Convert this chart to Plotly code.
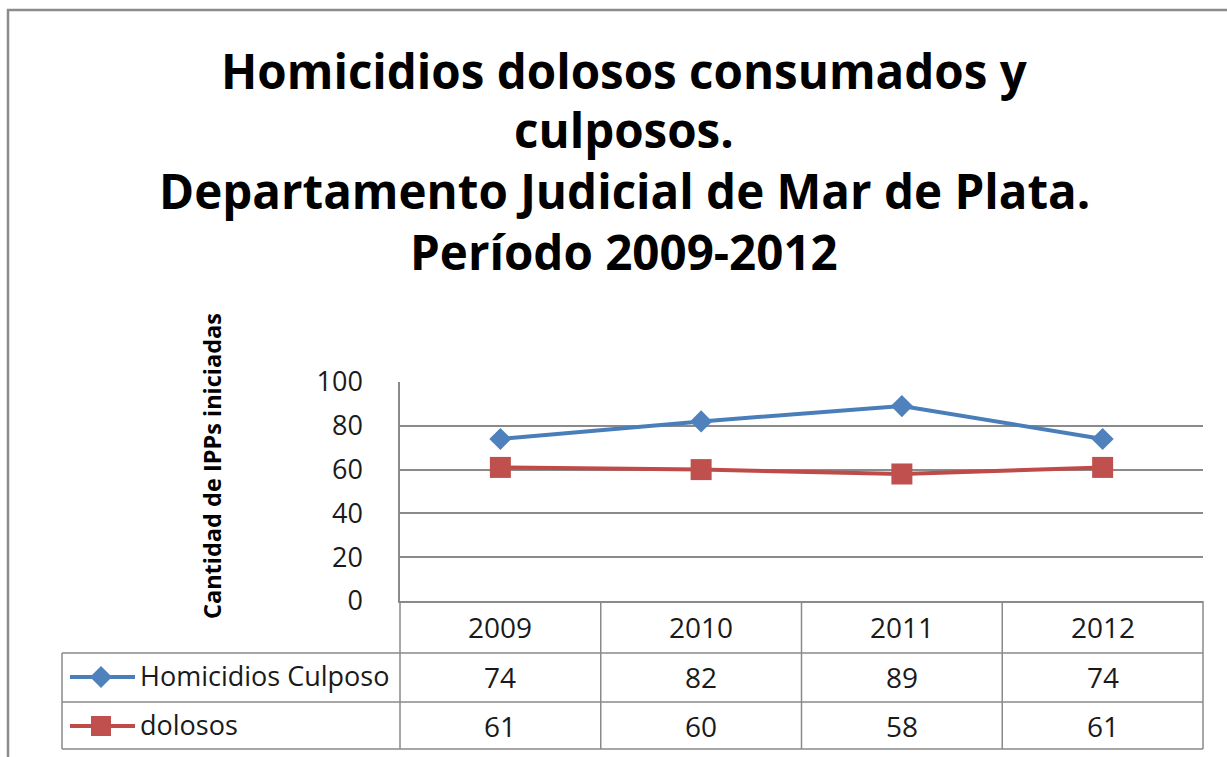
import plotly.graph_objects as go

# ---- data ----
years = ["2009", "2010", "2011", "2012"]
culposos = [74, 82, 89, 74]
dolosos = [61, 60, 58, 61]
series_names = ["Homicidios Culposo", "dolosos"]
y_ticks = [0, 20, 40, 60, 80, 100]
title_lines = [
    "Homicidios dolosos consumados y",
    "culposos.",
    "Departamento Judicial de Mar de Plata.",
    "Período 2009-2012",
]
y_title = "Cantidad de IPPs iniciadas"

# ---- layout geometry (pixels) ----
W, H = 1227, 757
PL, PR, PT, PB = 400, 1203, 382, 601  # plot area
ROW_LINES = [653, 702, 749]
TABLE_LEFT = 62

def px2x(px):
    return (px - PL) / (PR - PL)

def px2y(py):
    return (PB - py) / (PB - PT)

BLUE_L, BLUE_M = "#4A7EBB", "#4F81BD"
RED_L, RED_M = "#BE4B48", "#C0504D"
GRID = "#8A8A8A"
FONT = "Open Sans"
TXT = "#1a1a1a"

xs = list(range(len(years)))

fig = go.Figure()
fig.add_trace(go.Scatter(
    x=xs, y=culposos, mode="lines+markers", name=series_names[0],
    line=dict(color=BLUE_L, width=4),
    marker=dict(symbol="diamond", size=17, color=BLUE_M),
    showlegend=False,
))
fig.add_trace(go.Scatter(
    x=xs, y=dolosos, mode="lines+markers", name=series_names[1],
    line=dict(color=RED_L, width=4),
    marker=dict(symbol="square", size=21, color=RED_M),
    showlegend=False,
))

shapes = []
annotations = []

# chart border
shapes.append(dict(type="rect", xref="paper", yref="paper",
                   x0=px2x(8), x1=px2x(1260), y0=px2y(790), y1=px2y(10),
                   line=dict(color="#8C8C8C", width=2.5), layer="below"))

# table lines
line_style = dict(color=GRID, width=1.5)
for ry in ROW_LINES:
    shapes.append(dict(type="line", xref="paper", yref="paper",
                       x0=px2x(TABLE_LEFT), x1=1, y0=px2y(ry), y1=px2y(ry),
                       line=line_style))
for i in range(len(years) - 1):
    shapes.append(dict(type="line", xref="x", yref="paper",
                       x0=i + 0.5, x1=i + 0.5, y0=0, y1=px2y(ROW_LINES[-1]),
                       line=line_style))
for xp in (0, 1):
    shapes.append(dict(type="line", xref="paper", yref="paper",
                       x0=xp, x1=xp, y0=0, y1=px2y(ROW_LINES[-1]),
                       line=line_style))
shapes.append(dict(type="line", xref="paper", yref="paper",
                   x0=px2x(TABLE_LEFT), x1=px2x(TABLE_LEFT),
                   y0=px2y(ROW_LINES[0]), y1=px2y(ROW_LINES[-1]),
                   line=line_style))

# header years and values
row_centers = [627, 677, 726]
cell_font = dict(family=FONT, size=28, color=TXT)
for i, yr in enumerate(years):
    annotations.append(dict(x=i, xref="x", y=px2y(row_centers[0]), yref="paper",
                            text=yr, showarrow=False, yanchor="middle", font=cell_font))
    annotations.append(dict(x=i, xref="x", y=px2y(row_centers[1]), yref="paper",
                            text=str(culposos[i]), showarrow=False, yanchor="middle",
                            font=cell_font))
    annotations.append(dict(x=i, xref="x", y=px2y(row_centers[2]), yref="paper",
                            text=str(dolosos[i]), showarrow=False, yanchor="middle",
                            font=cell_font))

# legend keys in table
key_specs = [(row_centers[1], BLUE_L, BLUE_M, "diamond"), (row_centers[2], RED_L, RED_M, "square")]
for (cy, lc, mc, sym), name in zip(key_specs, series_names):
    shapes.append(dict(type="line", xref="paper", yref="paper",
                       x0=px2x(70), x1=px2x(135), y0=px2y(cy), y1=px2y(cy),
                       line=dict(color=lc, width=4)))
    cx = 101
    if sym == "diamond":
        r = 11
        path = "M {} {} L {} {} L {} {} L {} {} Z".format(
            px2x(cx), px2y(cy - r), px2x(cx + r), px2y(cy),
            px2x(cx), px2y(cy + r), px2x(cx - r), px2y(cy))
        shapes.append(dict(type="path", xref="paper", yref="paper", path=path,
                           fillcolor=mc, line=dict(color=mc, width=0)))
    else:
        r = 10
        shapes.append(dict(type="rect", xref="paper", yref="paper",
                           x0=px2x(cx - r), x1=px2x(cx + r),
                           y0=px2y(cy + r), y1=px2y(cy - r),
                           fillcolor=mc, line=dict(color=mc, width=0)))
    annotations.append(dict(x=px2x(138), xref="paper", y=px2y(cy - 2), yref="paper",
                            text=name, showarrow=False, xanchor="left", yanchor="middle",
                            font=dict(family=FONT, size=27, color=TXT)))

# title lines
title_centers = [70, 130, 190, 251]
for t, cy in zip(title_lines, title_centers):
    annotations.append(dict(x=px2x(624), xref="paper", y=px2y(cy), yref="paper",
                            text=t, showarrow=False, xanchor="center", yanchor="middle",
                            font=dict(family=FONT, size=47.5, color="#000000", weight="bold")))

# y-axis title
annotations.append(dict(x=px2x(212), xref="paper", y=px2y(466), yref="paper",
                        text=y_title, showarrow=False, textangle=-90,
                        xanchor="center", yanchor="middle",
                        font=dict(family=FONT, size=23.5, color="#000000", weight="bold")))

fig.update_layout(
    width=W, height=H,
    margin=dict(l=PL, r=W - PR, t=PT, b=H - PB, pad=0),
    paper_bgcolor="white", plot_bgcolor="white",
    shapes=shapes, annotations=annotations,
    xaxis=dict(range=[-0.5, len(years) - 0.5], showgrid=False, zeroline=False,
               showticklabels=False, ticks="", showline=True, linecolor=GRID, linewidth=1.5,
               fixedrange=True),
    yaxis=dict(range=[0, 100], tickvals=y_ticks, showgrid=True, gridcolor=GRID,
               gridwidth=1.5, zeroline=False, showline=True, linecolor=GRID, linewidth=1.5,
               ticks="", ticklabelstandoff=30,
               tickfont=dict(family=FONT, size=27, color=TXT), fixedrange=True),
    font=dict(family=FONT),
)

fig.write_html("out.html", config={"displayModeBar": False},
               post_script="document.body.style.margin='0';")
